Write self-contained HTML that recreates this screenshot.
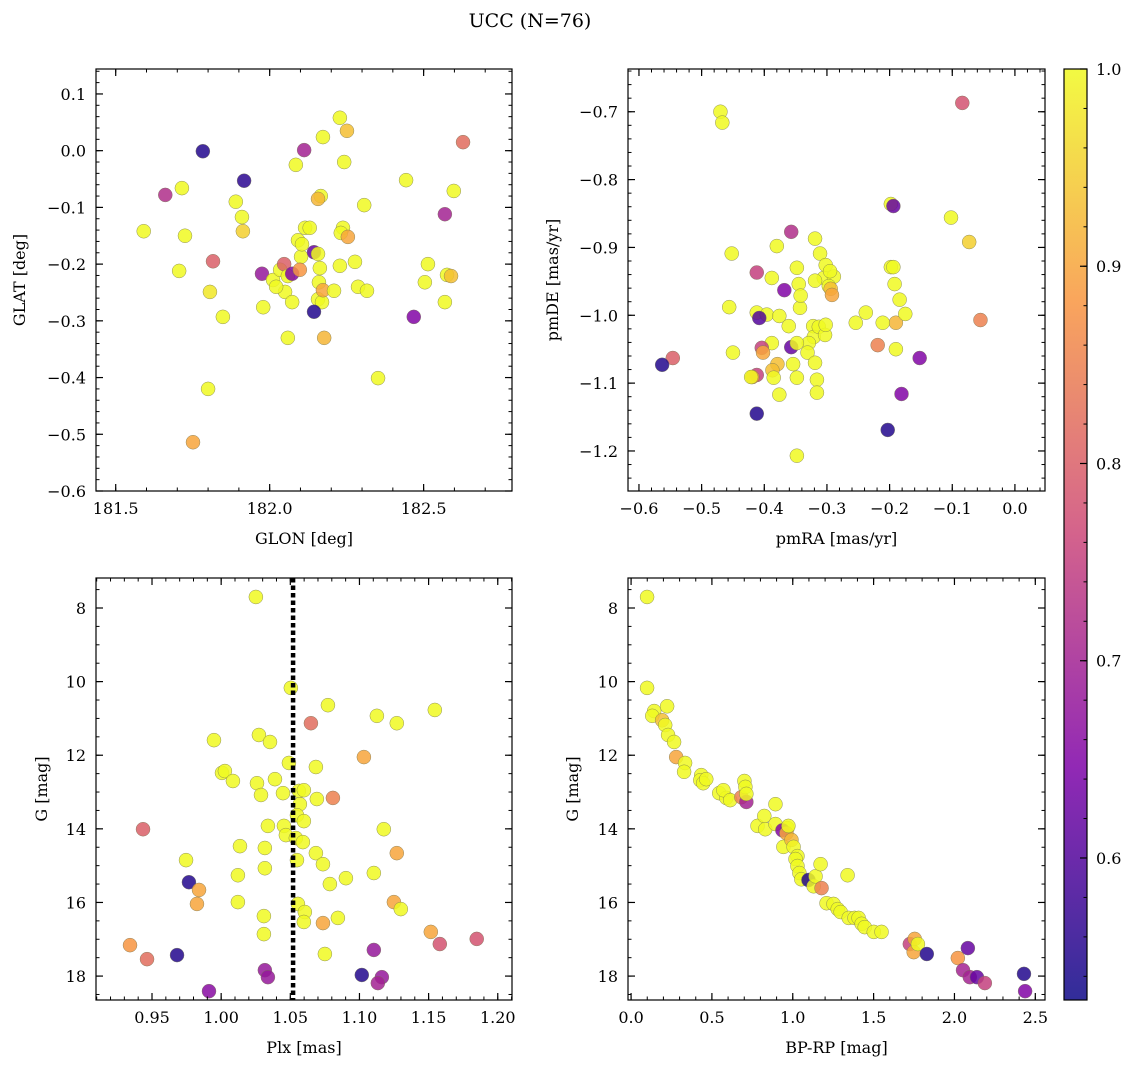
<!DOCTYPE html>
<html><head><meta charset="utf-8">
<style>
html,body{margin:0;padding:0;background:#fff;}
svg{display:block;font-family:"DejaVu Serif","Liberation Serif",serif;}
</style></head>
<body>
<svg id="fig" width="1136" height="1068" viewBox="0 0 1136 1068" xmlns="http://www.w3.org/2000/svg">
<text x="530" y="27" font-size="19" text-anchor="middle">UCC (N=76)</text>
</svg>
<script>
// ---- Panel 1: GLON vs GLAT ----
const p1Glon=[181.783,181.917,181.661,181.715,181.591,181.725,181.706,181.890,181.913,181.910,181.816,181.806,181.848,181.800,181.751,181.975,181.979,182.011,182.034,182.047,182.059,182.050,182.073,182.073,182.059,182.085,182.112,182.092,182.102,182.115,182.098,182.144,182.173,182.166,182.157,182.157,182.163,182.160,182.157,182.170,182.173,182.144,182.228,182.251,182.242,182.238,182.231,182.254,182.228,182.277,182.209,182.177,182.307,182.287,182.316,182.352,182.443,182.468,182.514,182.504,182.569,182.598,182.628,182.576,182.589,182.569,182.130,182.105,182.021];
const p1Glat=[-0.001,-0.053,-0.078,-0.066,-0.142,-0.150,-0.212,-0.090,-0.142,-0.117,-0.195,-0.249,-0.293,-0.420,-0.514,-0.217,-0.276,-0.228,-0.210,-0.200,-0.221,-0.249,-0.217,-0.267,-0.330,-0.025,0.001,-0.158,-0.187,-0.136,-0.210,-0.179,0.024,-0.080,-0.085,-0.182,-0.207,-0.232,-0.262,-0.267,-0.246,-0.284,0.058,0.035,-0.020,-0.136,-0.145,-0.152,-0.203,-0.196,-0.247,-0.330,-0.096,-0.240,-0.247,-0.401,-0.052,-0.293,-0.200,-0.232,-0.112,-0.071,0.015,-0.219,-0.221,-0.267,-0.136,-0.165,-0.240];
const p1Prob=[0.55,0.56,0.72,1,1,1,1,1,0.95,1,0.8,0.98,1,1,0.9,0.68,1,1,1,0.8,1,1,0.65,1,1,1,0.7,1,1,1,0.88,0.62,1,1,0.92,1,1,1,1,1,0.9,0.55,1,0.93,1,1,1,0.9,1,1,1,0.92,1,1,1,1,1,0.65,1,1,0.7,1,0.82,1,0.93,1,1,1,1];
// ---- Panel 2: pmRA vs pmDE ----
const p2Pmra=[-0.470,-0.467,-0.084,-0.198,-0.194,-0.102,-0.073,-0.452,-0.412,-0.380,-0.357,-0.319,-0.311,-0.302,-0.305,-0.289,-0.297,-0.294,-0.345,-0.388,-0.368,-0.348,-0.319,-0.198,-0.194,-0.192,-0.184,-0.190,-0.211,-0.254,-0.238,-0.292,-0.456,-0.412,-0.396,-0.376,-0.361,-0.388,-0.343,-0.342,-0.322,-0.321,-0.313,-0.303,-0.302,-0.329,-0.331,-0.357,-0.348,-0.354,-0.348,-0.319,-0.316,-0.316,-0.379,-0.387,-0.385,-0.376,-0.412,-0.419,-0.421,-0.408,-0.404,-0.402,-0.450,-0.546,-0.563,-0.412,-0.348,-0.203,-0.181,-0.152,-0.190,-0.219,-0.175,-0.295,-0.055];
const p2Pmde=[-0.700,-0.716,-0.687,-0.836,-0.839,-0.856,-0.892,-0.909,-0.937,-0.898,-0.877,-0.887,-0.909,-0.926,-0.945,-0.943,-0.957,-0.961,-0.954,-0.945,-0.963,-0.930,-0.949,-0.929,-0.929,-0.954,-0.977,-1.011,-1.011,-1.011,-0.996,-0.970,-0.988,-0.996,-0.999,-1.001,-1.016,-1.041,-0.989,-0.971,-1.016,-1.032,-1.017,-1.029,-1.014,-1.041,-1.055,-1.047,-1.041,-1.072,-1.092,-1.070,-1.095,-1.114,-1.072,-1.081,-1.092,-1.117,-1.088,-1.091,-1.091,-1.004,-1.048,-1.055,-1.055,-1.063,-1.073,-1.145,-1.207,-1.169,-1.116,-1.063,-1.050,-1.044,-0.998,-0.935,-1.007];
const p2Prob=[1,1,0.78,1,0.62,1,0.95,1,0.75,1,0.72,1,1,1,1,1,1,0.93,1,1,0.65,1,1,1,1,1,1,0.92,1,1,1,0.9,1,1,1,1,1,1,1,1,1,1,1,1,1,1,1,0.62,1,1,1,1,1,1,0.93,0.93,1,1,0.75,0.88,1,0.6,0.75,0.9,1,0.8,0.55,0.55,1,0.55,0.65,0.65,1,0.85,1,1,0.85];
// ---- Panel 3: Plx vs G ----
const p3Plx=[1.0251,1.0504,1.0772,1.0649,1.1126,1.1270,1.1545,0.9948,1.0273,1.0353,1.1032,1.0006,1.0027,1.0085,1.0259,1.0389,1.0447,1.0288,1.0490,1.0685,1.0562,1.0569,1.0548,1.0598,1.0692,1.0808,1.1176,1.0338,1.0598,1.0454,1.0468,1.0540,1.0591,1.0548,0.9435,1.0136,1.0316,1.0685,0.9746,1.0316,1.1104,1.0121,1.0736,1.1270,1.0902,0.9767,0.9840,1.0786,0.9825,1.0121,1.0555,1.0605,1.1249,1.1299,1.0844,1.0598,1.0309,1.0736,1.0309,1.1516,0.9341,0.9464,0.9681,1.0750,1.1104,1.1581,1.1848,1.0316,1.0338,1.1017,1.1162,1.1133,0.9912];
const p3G=[7.70,10.17,10.64,11.13,10.93,11.13,10.77,11.59,11.45,11.64,12.05,12.48,12.43,12.70,12.76,12.65,13.03,13.08,12.21,12.32,12.97,13.33,13.63,12.95,13.19,13.16,14.01,13.92,13.79,13.92,14.17,14.25,14.36,14.85,14.01,14.47,14.52,14.66,14.85,15.07,15.20,15.26,14.96,14.66,15.34,15.45,15.66,15.50,16.04,15.99,16.04,16.26,15.99,16.18,16.42,16.53,16.37,16.56,16.86,16.80,17.16,17.54,17.43,17.40,17.29,17.13,16.99,17.84,18.03,17.97,18.03,18.19,18.41];
const p3Prob=[1,1,1,0.82,1,1,1,1,1,1,0.9,1,1,1,1,1,1,1,1,1,1,1,1,1,1,0.85,1,1,1,1,1,1,1,1,0.8,1,1,1,1,1,1,1,1,0.9,1,0.55,0.9,1,0.9,1,1,1,0.9,1,1,1,1,0.9,1,0.9,0.88,0.82,0.55,1,0.68,0.78,0.78,0.68,0.68,0.55,0.68,0.7,0.66];
// ---- Panel 4: BP-RP vs G ----
const p4Bprp=[0.099,0.099,0.143,0.131,0.192,0.223,0.211,0.229,0.266,0.279,0.334,0.328,0.434,0.428,0.446,0.465,0.545,0.589,0.571,0.613,0.682,0.713,0.701,0.707,0.713,0.782,0.893,0.824,0.830,0.893,0.967,0.936,0.961,0.973,0.942,0.992,1.005,1.029,1.017,1.029,1.041,1.053,1.097,1.129,1.141,1.172,1.178,1.209,1.252,1.278,1.296,1.346,1.339,1.382,1.407,1.426,1.445,1.501,1.549,1.724,1.754,1.748,1.774,1.829,2.021,2.083,2.053,2.095,2.139,2.188,2.430,2.437];
const p4G=[7.70,10.17,10.80,10.93,11.05,10.67,11.18,11.45,11.64,12.05,12.21,12.45,12.54,12.68,12.76,12.65,13.03,13.16,12.95,13.22,13.14,13.27,12.70,12.86,13.05,13.92,13.33,13.65,14.01,13.87,13.98,14.04,14.12,13.92,14.49,14.30,14.49,14.74,14.82,15.01,15.20,15.37,15.39,15.56,15.29,14.96,15.61,16.02,16.04,16.18,16.26,16.42,15.26,16.42,16.42,16.58,16.67,16.80,16.80,17.13,16.99,17.35,17.13,17.40,17.51,17.24,17.84,18.03,18.03,18.19,17.94,18.41];
const p4Prob=[1,1,1,1,0.93,1,1,1,1,0.9,1,1,1,1,1,1,1,1,1,1,0.85,0.7,1,1,1,1,1,1,1,1,1,0.65,0.9,1,1,0.92,1,1,1,1,1,1,0.55,1,1,1,0.85,1,1,1,1,1,1,1,1,1,1,1,1,0.75,0.9,0.9,1,0.55,0.88,0.62,0.7,0.7,0.62,0.75,0.55,0.65];
// ---- Tick labels ----
const p1XTicks=[181.5,182.0,182.5], p1XLabels=["181.5","182.0","182.5"];
const p1YTicks=[0.1,0.0,-0.1,-0.2,-0.3,-0.4,-0.5,-0.6], p1YLabels=["0.1","0.0","\u22120.1","\u22120.2","\u22120.3","\u22120.4","\u22120.5","\u22120.6"];
const p2XTicks=[-0.6,-0.5,-0.4,-0.3,-0.2,-0.1,0.0], p2XLabels=["\u22120.6","\u22120.5","\u22120.4","\u22120.3","\u22120.2","\u22120.1","0.0"];
const p2YTicks=[-0.7,-0.8,-0.9,-1.0,-1.1,-1.2], p2YLabels=["\u22120.7","\u22120.8","\u22120.9","\u22121.0","\u22121.1","\u22121.2"];
const p3XTicks=[0.95,1.00,1.05,1.10,1.15,1.20], p3XLabels=["0.95","1.00","1.05","1.10","1.15","1.20"];
const gTicks=[8,10,12,14,16,18], gLabels=["8","10","12","14","16","18"];
const p4XTicks=[0.0,0.5,1.0,1.5,2.0,2.5], p4XLabels=["0.0","0.5","1.0","1.5","2.0","2.5"];
const cbTicks=[0.6,0.7,0.8,0.9,1.0], cbLabels=["0.6","0.7","0.8","0.9","1.0"];
const plxMedian=1.052;

const NS="http://www.w3.org/2000/svg";
const svg=document.getElementById('fig');
function mk(tag,attrs,parent){const e=document.createElementNS(NS,tag);for(const k in attrs)e.setAttribute(k,attrs[k]);(parent||svg).appendChild(e);return e;}
const stops=[[0,[13,8,135]],[0.25,[126,3,168]],[0.5,[204,71,120]],[0.75,[248,149,64]],[1,[240,249,33]]];
const CMIN=0.528,CMAX=1.0;
function plasma(v){let t=(v-CMIN)/(CMAX-CMIN);t=Math.max(0,Math.min(1,t));for(let i=1;i<stops.length;i++){if(t<=stops[i][0]){const a=stops[i-1],b=stops[i];const f=(t-a[0])/(b[0]-a[0]);const c=a[1].map((x,j)=>Math.round(x+(b[1][j]-x)*f));return `rgb(${c[0]},${c[1]},${c[2]})`;}}return 'rgb(240,249,33)';}

function panel(o){
  const g=mk('g',{});
  
  
  const sx=v=>o.x0+(v-o.xmin)/(o.xmax-o.xmin)*(o.x1-o.x0);
  const sy=v=>o.y1-(v-o.ymin)/(o.ymax-o.ymin)*(o.y1-o.y0);
  const pg=mk('g',{},g);
  
  
  for(let i=0;i<o.xs.length;i++){
    const c=mk('circle',{cx:sx(o.xs[i]),cy:sy(o.ys[i]),r:7,fill:plasma(o.cs[i]),'fill-opacity':0.85,stroke:'#777755','stroke-width':0.5,'stroke-opacity':0.8},pg);
    
    
  }
  if(o.vline!==undefined){
    const l=mk('line',{x1:sx(o.vline),x2:sx(o.vline),y1:o.y0,y2:o.y1,stroke:'#000','stroke-width':4.5,'stroke-dasharray':'4.5,3'},g);
    
    
  }
  const fr=mk('rect',{x:o.x0,y:o.y0,width:o.x1-o.x0,height:o.y1-o.y0,fill:'none',stroke:'#000','stroke-width':1.2},g);
  
  
  for(let v=Math.ceil(o.xmin/o.xminor-1e-9)*o.xminor;v<=o.xmax+1e-9;v+=o.xminor){const X=sx(v);mk('line',{x1:X,x2:X,y1:o.y1,y2:o.y1-3.5,stroke:'#000','stroke-width':1},g);mk('line',{x1:X,x2:X,y1:o.y0,y2:o.y0+3.5,stroke:'#000','stroke-width':1},g);}
  for(let v=Math.ceil(o.ymin/o.yminor-1e-9)*o.yminor;v<=o.ymax+1e-9;v+=o.yminor){const Y=sy(v);mk('line',{x1:o.x0,x2:o.x0+3.5,y1:Y,y2:Y,stroke:'#000','stroke-width':1},g);mk('line',{x1:o.x1,x2:o.x1-3.5,y1:Y,y2:Y,stroke:'#000','stroke-width':1},g);}
  o.xt.forEach((v,i)=>{const X=sx(v);mk('line',{x1:X,x2:X,y1:o.y1,y2:o.y1-7,stroke:'#000','stroke-width':1.2},g);mk('line',{x1:X,x2:X,y1:o.y0,y2:o.y0+7,stroke:'#000','stroke-width':1.2},g);
    const t=mk('text',{x:X,y:o.y1+23,'font-size':16,'text-anchor':'middle'},g);t.textContent=o.xl[i];
    
    });
  o.yt.forEach((v,i)=>{const Y=sy(v);mk('line',{x1:o.x0,x2:o.x0+7,y1:Y,y2:Y,stroke:'#000','stroke-width':1.2},g);mk('line',{x1:o.x1,x2:o.x1-7,y1:Y,y2:Y,stroke:'#000','stroke-width':1.2},g);
    const t=mk('text',{x:o.x0-10,y:Y+6,'font-size':16,'text-anchor':'end'},g);t.textContent=o.yl[i];
    
    });
  const xt=mk('text',{x:(o.x0+o.x1)/2,y:o.y1+53,'font-size':16,'text-anchor':'middle'},g);xt.textContent=o.xlabel;
  
  
  const yt=mk('text',{x:0,y:0,'font-size':16,'text-anchor':'middle',transform:`translate(${o.ylx},${(o.y0+o.y1)/2}) rotate(-90)`},g);yt.textContent=o.ylabel;
  
  
}

panel({name:'glon-glat-panel',x0:96,x1:512,y0:69,y1:491,xmin:181.436,xmax:182.787,ymin:-0.6,ymax:0.144,xminor:0.1,yminor:0.02,xs:p1Glon,ys:p1Glat,cs:p1Prob,xt:p1XTicks,xl:p1XLabels,yt:p1YTicks,yl:p1YLabels,xlabel:'GLON [deg]',ylabel:'GLAT [deg]',ylx:25});
panel({name:'pm-panel',x0:628,x1:1045,y0:69,y1:491,xmin:-0.6175,xmax:0.048,ymin:-1.259,ymax:-0.637,xminor:0.02,yminor:0.02,xs:p2Pmra,ys:p2Pmde,cs:p2Prob,xt:p2XTicks,xl:p2XLabels,yt:p2YTicks,yl:p2YLabels,xlabel:'pmRA [mas/yr]',ylabel:'pmDE [mas/yr]',ylx:558});
panel({name:'plx-g-panel',x0:96,x1:512,y0:578,y1:1000,xmin:0.9095,xmax:1.2103,ymin:-18.65,ymax:-7.185,xminor:0.01,yminor:0.5,xs:p3Plx,ys:p3G.map(v=>-v),cs:p3Prob,xt:p3XTicks,xl:p3XLabels,yt:gTicks.map(v=>-v),yl:gLabels,xlabel:'Plx [mas]',ylabel:'G [mag]',ylx:47,vline:plxMedian});
panel({name:'cmd-panel',x0:628,x1:1045,y0:578,y1:1000,xmin:-0.019,xmax:2.56,ymin:-18.65,ymax:-7.185,xminor:0.1,yminor:0.5,xs:p4Bprp,ys:p4G.map(v=>-v),cs:p4Prob,xt:p4XTicks,xl:p4XLabels,yt:gTicks.map(v=>-v),yl:gLabels,xlabel:'BP-RP [mag]',ylabel:'G [mag]',ylx:578});
(function(){
  const g=mk('g',{});
  
  
  const x0=1064,x1=1087,y0=69,y1=1000;
  const defs=mk('defs',{},g);
  const lg=mk('linearGradient',{id:'cbg',x1:0,y1:1,x2:0,y2:0},defs);
  for(let i=0;i<=20;i++){const v=CMIN+(CMAX-CMIN)*i/20;mk('stop',{offset:i/20,'stop-color':plasma(v),'stop-opacity':0.85},lg);}
  mk('rect',{x:x0,y:y0,width:x1-x0,height:y1-y0,fill:'url(#cbg)',stroke:'#000','stroke-width':1.2},g);
  const sy=v=>y1-(v-CMIN)/(CMAX-CMIN)*(y1-y0);
  for(let v=0.54;v<=1.0001;v+=0.02){const Y=sy(v);mk('line',{x1:x1,x2:x1-3.5,y1:Y,y2:Y,stroke:'#000','stroke-width':1},g);}
  cbTicks.forEach((v,i)=>{const Y=sy(v);mk('line',{x1:x1,x2:x1-7,y1:Y,y2:Y,stroke:'#000','stroke-width':1.2},g);
    const t=mk('text',{x:x1+9,y:Y+6,'font-size':16},g);t.textContent=cbLabels[i];
    
    });
})();
</script>
</body></html>
